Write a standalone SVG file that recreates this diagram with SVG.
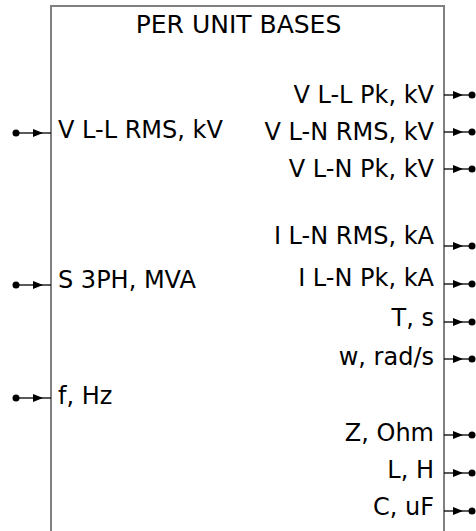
<svg xmlns="http://www.w3.org/2000/svg" width="476" height="531" viewBox="0 0 476 531">
<style>
.box{fill:#fff;stroke:#808080;stroke-width:2}
.t{font-family:"DejaVu Sans",Verdana,sans-serif;font-size:24px;fill:#000}
.title{font-size:25px}
.r{text-anchor:end}
.w{stroke:#000;stroke-width:1.3;fill:none}
.ah{fill:#000}
.dot{fill:#000}
</style>
<defs>
<marker id="arr" viewBox="0 0 10 8" refX="10" refY="4" markerWidth="10" markerHeight="8" markerUnits="userSpaceOnUse" orient="auto"><path d="M0,0 L10,4 L0,8 z" class="ah"/></marker>
</defs>
<rect width="476" height="531" fill="#fff"/>
<g id="block">
<rect class="box" x="51" y="6" width="393" height="540"/>
<text class="t title" x="238.5" y="33" text-anchor="middle">PER UNIT BASES</text>
<text class="t" x="58" y="138">V L-L RMS, kV</text>
<text class="t" x="58" y="288">S 3PH, MVA</text>
<text class="t" x="58" y="404">f, Hz</text>
<text class="t r" x="434" y="103">V L-L Pk, kV</text>
<text class="t r" x="434" y="140">V L-N RMS, kV</text>
<text class="t r" x="434" y="177">V L-N Pk, kV</text>
<text class="t r" x="434" y="244">I L-N RMS, kA</text>
<text class="t r" x="434" y="286">I L-N Pk, kA</text>
<text class="t r" x="434" y="326">T, s</text>
<text class="t r" x="434" y="365">w, rad/s</text>
<text class="t r" x="434" y="441">Z, Ohm</text>
<text class="t r" x="434" y="478">L, H</text>
<text class="t r" x="434" y="515">C, uF</text>
</g>
<g id="connectors">
<g id="in-ports">
<path class="w" d="M16,133 H43" marker-end="url(#arr)"/><line class="w" x1="43" y1="133" x2="51" y2="133"/><circle class="dot" cx="16" cy="133" r="3.5"/>
<path class="w" d="M16,285 H43" marker-end="url(#arr)"/><line class="w" x1="43" y1="285" x2="51" y2="285"/><circle class="dot" cx="16" cy="285" r="3.5"/>
<path class="w" d="M16,398 H43" marker-end="url(#arr)"/><line class="w" x1="43" y1="398" x2="51" y2="398"/><circle class="dot" cx="16" cy="398" r="3.5"/>
</g>
<g id="out-ports">
<path class="w" d="M444,95 H463" marker-end="url(#arr)"/><line class="w" x1="463" y1="95" x2="472" y2="95"/><circle class="dot" cx="472" cy="95" r="3.5"/>
<path class="w" d="M444,132 H463" marker-end="url(#arr)"/><line class="w" x1="463" y1="132" x2="472" y2="132"/><circle class="dot" cx="472" cy="132" r="3.5"/>
<path class="w" d="M444,169 H463" marker-end="url(#arr)"/><line class="w" x1="463" y1="169" x2="472" y2="169"/><circle class="dot" cx="472" cy="169" r="3.5"/>
<path class="w" d="M444,246 H463" marker-end="url(#arr)"/><line class="w" x1="463" y1="246" x2="472" y2="246"/><circle class="dot" cx="472" cy="246" r="3.5"/>
<path class="w" d="M444,284 H463" marker-end="url(#arr)"/><line class="w" x1="463" y1="284" x2="472" y2="284"/><circle class="dot" cx="472" cy="284" r="3.5"/>
<path class="w" d="M444,322 H463" marker-end="url(#arr)"/><line class="w" x1="463" y1="322" x2="472" y2="322"/><circle class="dot" cx="472" cy="322" r="3.5"/>
<path class="w" d="M444,359 H463" marker-end="url(#arr)"/><line class="w" x1="463" y1="359" x2="472" y2="359"/><circle class="dot" cx="472" cy="359" r="3.5"/>
<path class="w" d="M444,435 H463" marker-end="url(#arr)"/><line class="w" x1="463" y1="435" x2="472" y2="435"/><circle class="dot" cx="472" cy="435" r="3.5"/>
<path class="w" d="M444,473 H463" marker-end="url(#arr)"/><line class="w" x1="463" y1="473" x2="472" y2="473"/><circle class="dot" cx="472" cy="473" r="3.5"/>
<path class="w" d="M444,511 H463" marker-end="url(#arr)"/><line class="w" x1="463" y1="511" x2="472" y2="511"/><circle class="dot" cx="472" cy="511" r="3.5"/>
</g>
</g>
</svg>
